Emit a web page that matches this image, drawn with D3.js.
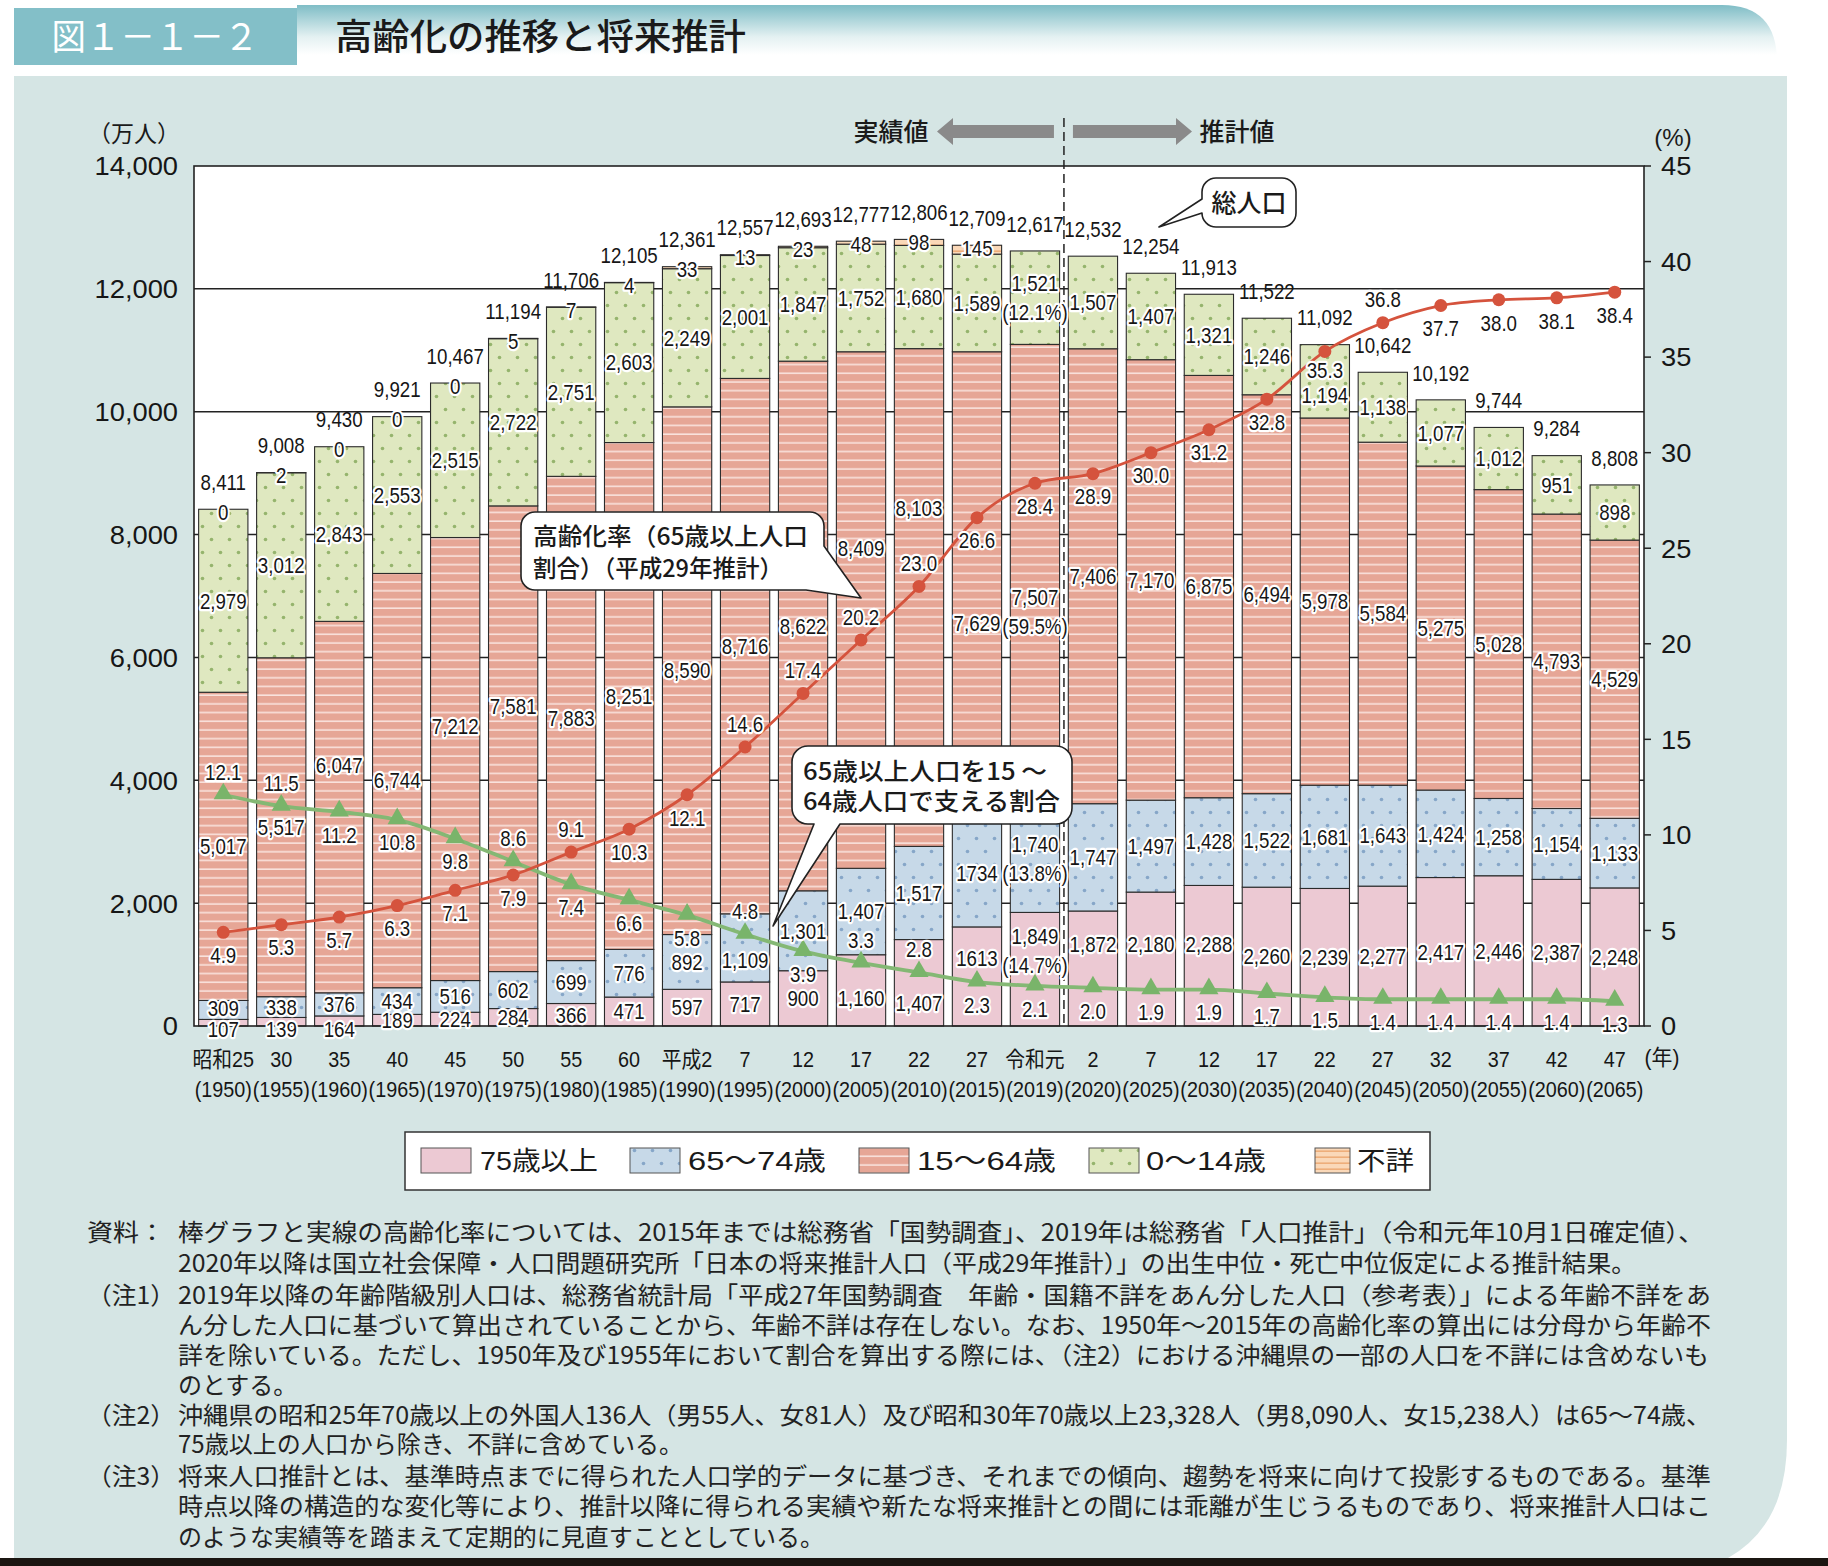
<!DOCTYPE html>
<html><head><meta charset="utf-8">
<script src="https://cdn.jsdelivr.net/npm/d3@7"></script>
<style>html,body{margin:0;padding:0;background:#fff}svg{display:block}</style>
</head><body>
<svg id="c" width="1828" height="1566"></svg>
<script>
// ---------------- DATA ----------------
const catTop = ["昭和25","30","35","40","45","50","55","60","平成2","7","12","17","22","27","令和元","2","7","12","17","22","27","32","37","42","47"];
const catBottom = ["(1950)","(1955)","(1960)","(1965)","(1970)","(1975)","(1980)","(1985)","(1990)","(1995)","(2000)","(2005)","(2010)","(2015)","(2019)","(2020)","(2025)","(2030)","(2035)","(2040)","(2045)","(2050)","(2055)","(2060)","(2065)"];
const age75plus = [107,139,164,189,224,284,366,471,597,717,900,1160,1407,1613,1849,1872,2180,2288,2260,2239,2277,2417,2446,2387,2248];
const age65to74 = [309,338,376,434,516,602,699,776,892,1109,1301,1407,1517,1734,1740,1747,1497,1428,1522,1681,1643,1424,1258,1154,1133];
const age15to64 = [5017,5517,6047,6744,7212,7581,7883,8251,8590,8716,8622,8409,8103,7629,7507,7406,7170,6875,6494,5978,5584,5275,5028,4793,4529];
const age0to14 = [2979,3012,2843,2553,2515,2722,2751,2603,2249,2001,1847,1752,1680,1589,1521,1507,1407,1321,1246,1194,1138,1077,1012,951,898];
const ageUnknown = [0,2,0,0,0,5,7,4,33,13,23,48,98,145,0,0,0,0,0,0,0,0,0,0,0];
const unknownShown = 14; // 不詳 labels only for 1950–2015
const totalPop = [8411,9008,9430,9921,10467,11194,11706,12105,12361,12557,12693,12777,12806,12709,12617,12532,12254,11913,11522,11092,10642,10192,9744,9284,8808];
const agingRate = [4.9,5.3,5.7,6.3,7.1,7.9,9.1,10.3,12.1,14.6,17.4,20.2,23.0,26.6,28.4,28.9,30.0,31.2,32.8,35.3,36.8,37.7,38.0,38.1,38.4];
const supportRatio = [12.1,11.5,11.2,10.8,9.8,8.6,7.4,6.6,5.8,4.8,3.9,3.3,2.8,2.3,2.1,2.0,1.9,1.9,1.7,1.5,1.4,1.4,1.4,1.4,1.3];
const share2019 = {a75:14.7, a65:13.8, a15:59.5, a0:12.1};
const leftTicks = [0,2000,4000,6000,8000,10000,12000,14000];
const rightTicks = [0,5,10,15,20,25,30,35,40,45];
const legendLabels = ["75歳以上","65～74歳","15～64歳","0～14歳","不詳"];
const labelTextOverride = {a65:{13:"1734"}, a75:{13:"1613"}};

const notes = [
  ["資料：","棒グラフと実線の高齢化率については、2015年までは総務省「国勢調査」、2019年は総務省「人口推計」（令和元年10月1日確定値）、"],
  ["","2020年以降は国立社会保障・人口問題研究所「日本の将来推計人口（平成29年推計）」の出生中位・死亡中位仮定による推計結果。"],
  ["（注1）","2019年以降の年齢階級別人口は、総務省統計局「平成27年国勢調査　年齢・国籍不詳をあん分した人口（参考表）」による年齢不詳をあ"],
  ["","ん分した人口に基づいて算出されていることから、年齢不詳は存在しない。なお、1950年～2015年の高齢化率の算出には分母から年齢不"],
  ["","詳を除いている。ただし、1950年及び1955年において割合を算出する際には、（注2）における沖縄県の一部の人口を不詳には含めないも"],
  ["","のとする。"],
  ["（注2）","沖縄県の昭和25年70歳以上の外国人136人（男55人、女81人）及び昭和30年70歳以上23,328人（男8,090人、女15,238人）は65～74歳、"],
  ["","75歳以上の人口から除き、不詳に含めている。"],
  ["（注3）","将来人口推計とは、基準時点までに得られた人口学的データに基づき、それまでの傾向、趨勢を将来に向けて投影するものである。基準"],
  ["","時点以降の構造的な変化等により、推計以降に得られる実績や新たな将来推計との間には乖離が生じうるものであり、将来推計人口はこ"],
  ["","のような実績等を踏まえて定期的に見直すこととしている。"]
];

// ---------------- LAYOUT ----------------
const W = 1828, H = 1566;
const plot = {l:194, r:1644, t:166, b:1026};
const NUM = "'Liberation Sans', Arial, 'Noto Sans CJK JP', sans-serif";
const JP = "'Noto Sans CJK JP', 'Noto Sans', sans-serif";
const labelNudge = {
  a75:{11:8,12:20,13:-18,14:-18,15:-24,16:-15,17:-11},
  a65:{0:-2,9:12},
  a15:{2:-42,4:-33,5:-32,11:-62,12:-89,13:37,14:37},
  a0:{19:14}
};
const redSide   = [1,1,1,1,1,1,-1,1,1,-1,-1,-1,-1,1,1,1,1,1,1,0.8,-1,1,1,1,1];
const greenSide = [-1,-1,1,1,1,-1,1,1,1,-1,1,-1,-1,1,1,1,1,1,1,1,1,1,1,1,1];

const svg = d3.select("#c");
const defs = svg.append("defs");

// header gradient
const hg = defs.append("linearGradient").attr("id","hdr").attr("x1",0).attr("y1",0).attr("x2",0).attr("y2",1);
hg.append("stop").attr("offset","0").attr("stop-color","#7fbdc6");
hg.append("stop").attr("offset","0.45").attr("stop-color","#e4f1f2");
hg.append("stop").attr("offset","0.7").attr("stop-color","#ffffff");

// patterns
function stripePattern(id, bg, line, h, lw){
  const p = defs.append("pattern").attr("id",id).attr("patternUnits","userSpaceOnUse").attr("width",20).attr("height",h);
  p.append("rect").attr("width",20).attr("height",h).attr("fill",bg);
  p.append("rect").attr("y",h-lw).attr("width",20).attr("height",lw).attr("fill",line);
}
function dotPattern(id, bg, dot){
  const p = defs.append("pattern").attr("id",id).attr("patternUnits","userSpaceOnUse").attr("width",18).attr("height",26);
  p.append("rect").attr("width",18).attr("height",26).attr("fill",bg);
  p.append("circle").attr("cx",4.5).attr("cy",6.5).attr("r",1.8).attr("fill",dot);
  p.append("circle").attr("cx",13.5).attr("cy",19.5).attr("r",1.8).attr("fill",dot);
}
stripePattern("p15","#e6a696","#f9e2dc",8.7,1.6);
stripePattern("pUnk","#fad8b8","#eeae7a",6,1.6);
dotPattern("p65","#c7d9e8","#86a6c8");
dotPattern("p0","#dfe8c0","#95b46d");
const fills = {a75:"#ecc9d3", a65:"url(#p65)", a15:"url(#p15)", a0:"url(#p0)", unk:"url(#pUnk)"};

// ---------------- BACKGROUND ----------------
svg.append("rect").attr("width",W).attr("height",H).attr("fill","#fff");
svg.append("path").attr("d","M297,5 H1722 Q1777,5 1777,62 V76 H297 Z").attr("fill","url(#hdr)");
svg.append("rect").attr("x",14).attr("y",8).attr("width",283).attr("height",57).attr("fill","#83bfc8");
svg.append("text").attr("x",155).attr("y",50).attr("text-anchor","middle").attr("font-family",JP)
  .attr("font-size",36).attr("fill","#fff").attr("textLength",207).attr("lengthAdjust","spacingAndGlyphs").text("図１－１－２");
svg.append("text").attr("x",335).attr("y",50).attr("font-family",JP).attr("font-weight",500)
  .attr("font-size",36).attr("fill","#1a1a1a").attr("textLength",411).attr("lengthAdjust","spacingAndGlyphs").text("高齢化の推移と将来推計");
svg.append("path").attr("d","M14,76 H1787 V1440 Q1787,1525 1728,1558 H14 Z").attr("fill","#d5e5e4");
svg.append("rect").attr("x",0).attr("y",1558).attr("width",W).attr("height",8).attr("fill","#1b1612");

// ---------------- SCALES ----------------
const x = d3.scaleBand().domain(d3.range(catTop.length)).range([plot.l, plot.r]).paddingInner(0.15).paddingOuter(0.08);
const bw = x.bandwidth();
const cx = i => x(i) + bw/2;
const yL = d3.scaleLinear().domain([0,14000]).range([plot.b, plot.t]);
const yR = d3.scaleLinear().domain([0,45]).range([plot.b, plot.t]);

// plot area
svg.append("rect").attr("x",plot.l).attr("y",plot.t).attr("width",plot.r-plot.l).attr("height",plot.b-plot.t).attr("fill","#fff");
svg.append("g").selectAll("line").data(leftTicks.filter(t=>t>0 && t<14000)).join("line")
  .attr("x1",plot.l).attr("x2",plot.r).attr("y1",d=>yL(d)).attr("y2",d=>yL(d))
  .attr("stroke","#222").attr("stroke-width",1.5);

// ---------------- BARS ----------------
const keys = ["a75","a65","a15","a0","unk"];
const rows = catTop.map((c,i)=>({i, a75:age75plus[i], a65:age65to74[i], a15:age15to64[i], a0:age0to14[i], unk:ageUnknown[i]}));
const series = d3.stack().keys(keys)(rows);
const gBars = svg.append("g");
series.forEach(s=>{
  gBars.selectAll(null).data(s.filter(d=>d[1]-d[0]>0)).join("rect")
    .attr("x",d=>x(d.data.i)).attr("width",bw)
    .attr("y",d=>yL(d[1])).attr("height",d=>yL(d[0])-yL(d[1]))
    .attr("fill",fills[s.key]).attr("stroke","#2b2b2b").attr("stroke-width",1.1);
});

// dashed divider
const divX = x(15) - x.step()*x.paddingInner()/2;
svg.append("line").attr("x1",divX).attr("x2",divX).attr("y1",118).attr("y2",plot.b)
  .attr("stroke","#222").attr("stroke-width",1.5).attr("stroke-dasharray","9,5");

// frame
svg.append("rect").attr("x",plot.l).attr("y",plot.t).attr("width",plot.r-plot.l).attr("height",plot.b-plot.t)
  .attr("fill","none").attr("stroke","#222").attr("stroke-width",1.6);

// ---------------- LINES ----------------
const lineGen = d3.line().x((d,i)=>cx(i)).y(d=>yR(d)).curve(d3.curveMonotoneX);
svg.append("path").attr("d",lineGen(supportRatio)).attr("fill","none").attr("stroke","#84b874").attr("stroke-width",3.8);
svg.append("g").selectAll("path").data(supportRatio).join("path")
  .attr("d",d3.symbol(d3.symbolTriangle).size(160)).attr("transform",(d,i)=>`translate(${cx(i)},${yR(d)-1})`).attr("fill","#79b46a");
svg.append("path").attr("d",lineGen(agingRate)).attr("fill","none").attr("stroke","#d5533d").attr("stroke-width",2.8);
svg.append("g").selectAll("circle").data(agingRate).join("circle")
  .attr("cx",(d,i)=>cx(i)).attr("cy",d=>yR(d)).attr("r",6.5).attr("fill","#d5533d");

// ---------------- TEXT HELPERS ----------------
function num(g, xx, yy, txt, opt={}){
  const size = opt.size||21.5, sx = opt.sx||0.87;
  const t = g.append("text").attr("transform",`translate(${xx},${yy}) scale(${sx},1)`)
    .attr("text-anchor",opt.anchor||"middle").attr("dy","0.36em")
    .attr("font-family",NUM).attr("font-size",size).attr("fill","#161616").text(txt);
  if(opt.halo!==false) t.attr("stroke","#fff").attr("stroke-width",opt.hw||4.5).attr("stroke-linejoin","round").attr("paint-order","stroke");
  return t;
}
const fmt = d3.format(",");
const gLab = svg.append("g");

// segment labels
["a75","a65","a15","a0"].forEach(k=>{
  const s = series.find(ss=>ss.key===k);
  s.forEach((d,i)=>{
    const y0 = yL(d[0]), y1 = yL(d[1]);
    let cy = (y0+y1)/2 + (labelNudge[k][i]||0);
    if(k==="a75" && (y0-y1) < 11) cy = y0 + 3;
    const txt = (labelTextOverride[k] && labelTextOverride[k][i]) || fmt(d.data[k]);
    if(i===14){
      num(gLab, cx(i), cy-14.5, txt);
      num(gLab, cx(i), cy+14.5, `(${share2019[k]}%)`);
    } else num(gLab, cx(i), cy, txt);
  });
});
// unknown labels
const sUnk = series.find(ss=>ss.key==="unk");
sUnk.forEach((d,i)=>{ if(i<unknownShown) num(gLab, cx(i), yL(d[1])+3, fmt(ageUnknown[i])); });
// totals
sUnk.forEach((d,i)=>{ num(gLab, cx(i), yL(d[1])-27, fmt(totalPop[i]), {halo:false}); });
// line labels
supportRatio.forEach((v,i)=> num(gLab, cx(i), yR(v)+greenSide[i]*23, v.toFixed(1)));
agingRate.forEach((v,i)=> num(gLab, cx(i), yR(v)+redSide[i]*23, v.toFixed(1)));

// ---------------- AXES TEXT ----------------
const gAx = svg.append("g");
leftTicks.forEach(t=> num(gAx, 178, yL(t), fmt(t), {size:26, sx:1.05, anchor:"end", halo:false}));
rightTicks.forEach(t=>{
  gAx.append("line").attr("x1",plot.r).attr("x2",plot.r+7).attr("y1",yR(t)).attr("y2",yR(t)).attr("stroke","#222").attr("stroke-width",1.5);
  num(gAx, 1661, yR(t), String(t), {size:26, sx:1.05, anchor:"start", halo:false});
});
gAx.append("text").attr("x",134).attr("y",134).attr("dy","0.36em").attr("text-anchor","middle").attr("font-family",JP).attr("font-size",23).attr("fill","#1a1a1a").text("（万人）");
gAx.append("text").attr("x",1673).attr("y",137).attr("dy","0.36em").attr("text-anchor","middle").attr("font-family",NUM).attr("font-size",24).attr("fill","#1a1a1a").text("(%)");
catTop.forEach((c,i)=> num(gAx, cx(i), 1059, c, {size:22, sx:0.9, halo:false}));
catBottom.forEach((c,i)=> num(gAx, cx(i), 1089, c, {size:22, sx:0.9, halo:false}));
num(gAx, 1662, 1057, "(年)", {size:22, sx:0.95, halo:false});

// ---------------- ARROWS ----------------
const gArr = svg.append("g").attr("fill","#8a8a8a");
gArr.append("path").attr("d",`M937,131.5 L953,118 V125 H${divX-10} V138 H953 V145 Z`);
gArr.append("path").attr("d",`M${divX+9},125 H1176 V118 L1192,131.5 L1176,145 V138 H${divX+9} Z`);
svg.append("text").attr("x",891).attr("y",132).attr("dy","0.36em").attr("text-anchor","middle").attr("font-family",JP).attr("font-weight",500).attr("font-size",25).attr("fill","#1a1a1a").text("実績値");
svg.append("text").attr("x",1237).attr("y",132).attr("dy","0.36em").attr("text-anchor","middle").attr("font-family",JP).attr("font-weight",500).attr("font-size",25).attr("fill","#1a1a1a").text("推計値");

// ---------------- CALLOUTS ----------------
const gCall = svg.append("g").attr("fill","#fff").attr("stroke","#222").attr("stroke-width",1.6).attr("stroke-linejoin","round");
(function(){ // 高齢化率
  const x0=521,x1=824,y0=512,y1=590,r=14;
  gCall.append("path").attr("d",`M${x0+r},${y0} H${x1-r} A${r},${r} 0 0 1 ${x1},${y0+r} V546 L861,598 L806,${y1} H${x0+r} A${r},${r} 0 0 1 ${x0},${y1-r} V${y0+r} A${r},${r} 0 0 1 ${x0+r},${y0} Z`);
})();
(function(){ // 65歳以上
  const x0=792,x1=1072,y0=746,y1=824,r=16;
  gCall.append("path").attr("d",`M${x0+r},${y0} H${x1-r} A${r},${r} 0 0 1 ${x1},${y0+r} V${y1-r} A${r},${r} 0 0 1 ${x1-r},${y1} H840 L773,926 L814,${y1} H${x0+r} A${r},${r} 0 0 1 ${x0},${y1-r} V${y0+r} A${r},${r} 0 0 1 ${x0+r},${y0} Z`);
})();
(function(){ // 総人口
  const x0=1202,x1=1296,y0=178,y1=227,r=14;
  gCall.append("path").attr("d",`M${x0+r},${y0} H${x1-r} A${r},${r} 0 0 1 ${x1},${y0+r} V${y1-r} A${r},${r} 0 0 1 ${x1-r},${y1} H${x0+r} A${r},${r} 0 0 1 ${x0},${y1-r} L1159,227 L${x0},199 V${y0+r} A${r},${r} 0 0 1 ${x0+r},${y0} Z`);
})();
function jp(xx, yy, txt, len, opt={}){
  const t = svg.append("text").attr("x",xx).attr("y",yy).attr("dy","0.36em").attr("font-family",JP)
    .attr("font-size",opt.size||24).attr("font-weight",opt.weight||400).attr("fill",opt.fill||"#1a1a1a")
    .attr("text-anchor",opt.anchor||"start").text(txt);
  if(len) t.attr("textLength",len).attr("lengthAdjust","spacingAndGlyphs");
  return t;
}
jp(533,536,"高齢化率（65歳以上人口",275,{weight:500});
jp(533,568,"割合）（平成29年推計）",250,{weight:500});
jp(803,771,"65歳以上人口を15 ～",244,{weight:500});
jp(803,801,"64歳人口で支える割合",257,{weight:500});
jp(1249,203,"総人口",null,{weight:500,anchor:"middle",size:25});

// ---------------- LEGEND ----------------
const gLeg = svg.append("g");
gLeg.append("rect").attr("x",405).attr("y",1132).attr("width",1025).attr("height",58).attr("fill","#fff").attr("stroke","#333").attr("stroke-width",1.5);
const legItems = [
  {k:"a75", sx:421, sw:50, tx:480, tl:118},
  {k:"a65", sx:630, sw:50, tx:688, tl:138},
  {k:"a15", sx:859, sw:50, tx:917, tl:139},
  {k:"a0",  sx:1089,sw:50, tx:1146,tl:120},
  {k:"unk", sx:1315,sw:35, tx:1357,tl:57}
];
legItems.forEach((it,j)=>{
  gLeg.append("rect").attr("x",it.sx).attr("y",1148).attr("width",it.sw).attr("height",25)
    .attr("fill",fills[it.k]).attr("stroke","#555").attr("stroke-width",1);
  gLeg.append("text").attr("x",it.tx).attr("y",1161).attr("dy","0.36em").attr("font-family",NUM)
    .attr("font-size",26).attr("fill","#1a1a1a").attr("textLength",it.tl).attr("lengthAdjust","spacingAndGlyphs").text(legendLabels[j]);
});

// ---------------- NOTES ----------------
const noteY = [1232,1263,1295,1325,1355,1385,1415,1444,1476,1506,1537];
const noteLen = [1526,1458,1533,1533,1531,null,1533,null,1533,1533,null];
notes.forEach((n,i)=>{
  if(n[0]) jp(87, noteY[i], n[0], n[0]==="資料："?78:88, {fill:"#222"});
  jp(178, noteY[i], n[1], noteLen[i], {fill:"#222"});
});
</script>
</body></html>
